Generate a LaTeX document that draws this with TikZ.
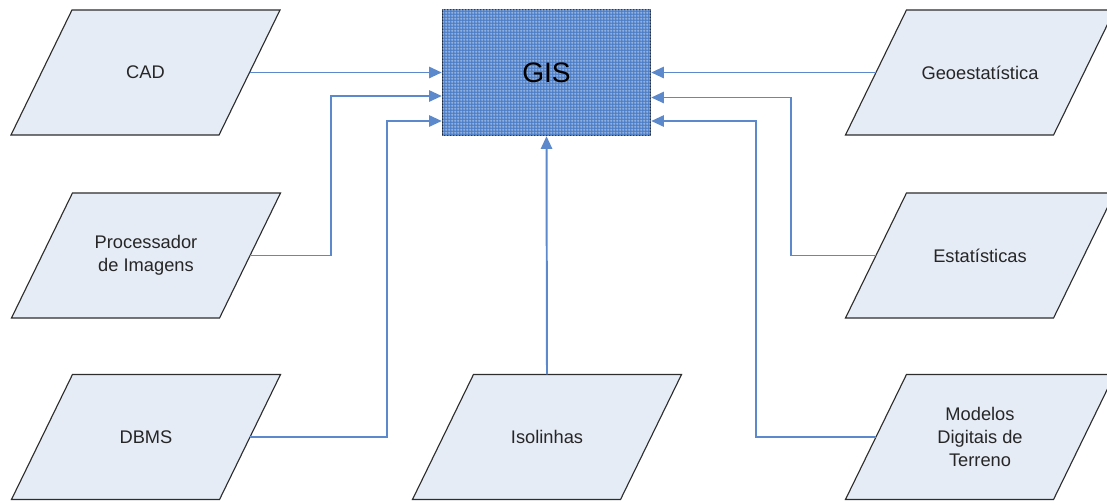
\documentclass[tikz,border=0pt]{standalone}
\usepackage{fontspec}
\setmainfont{Liberation Sans}
\usetikzlibrary{arrows.meta,calc,patterns.meta,backgrounds}
\definecolor{parfill}{RGB}{230,236,246}
\definecolor{gisblue}{RGB}{76,126,200}
\definecolor{linkblue}{RGB}{92,136,204}
\definecolor{edgegray}{RGB}{45,45,45}
\pgfdeclarepattern{name=gisgrid,type=uncolored,bottom left={\pgfpoint{0pt}{0pt}},top right={\pgfpoint{2.2pt}{2.2pt}},
	tile size={\pgfpoint{2.2pt}{2.2pt}},
	code={\pgfsetlinewidth{0.4pt}\pgfpathmoveto{\pgfpoint{0pt}{1.1pt}}\pgfpathlineto{\pgfpoint{2.2pt}{1.1pt}}
		\pgfpathmoveto{\pgfpoint{1.1pt}{0pt}}\pgfpathlineto{\pgfpoint{1.1pt}{2.2pt}}\pgfusepath{stroke}}}
\begin{document}
\begin{tikzpicture}[x=0.025cm,y=-0.025cm,
		source/.style={rectangle,outer sep=0pt,minimum width=5.2cm,minimum height=3.125cm,
			text=black!85,align=center,font=\fontsize{13}{16.5}\selectfont},
		para/.style={draw=edgegray,line width=0.8pt,fill=parfill},
		gisbox/.style={rectangle,draw=black!70!gisblue,line width=1pt,fill=gisblue,
			postaction={pattern={gisgrid},pattern color=white!60!gisblue},
			minimum width=5.2cm,minimum height=3.15cm,font=\fontsize{20}{24}\selectfont},
		link/.style={draw=linkblue,line width=1.4pt,-{Triangle[length=9pt,width=8pt]}}]
	\useasboundingbox (0,0) rectangle (1107,502) ;
	\node[gisbox] (gis) at (546.5,72.5) {GIS} ;
	% left column
	\node[source] (cad) at (145.5,72.5) {CAD} ;
	\node[source] (proc) at (146,255.5) {Processador\\de Imagens} ;
	\node[source] (dbms) at (146,437) {DBMS} ;
	% middle
	\node[source] (iso) at (547,437) {Isolinhas} ;
	% right column
	\node[source] (geo) at (980,72.5) {Geoestatística} ;
	\node[source] (est) at (980,255.5) {Estatísticas} ;
	\node[source] (mdt) at (980,437) {Modelos\\Digitais de\\Terreno} ;
	% parallelograms behind the texts
	\begin{scope}[on background layer]
		\foreach \n in {cad,proc,dbms,iso,geo,est,mdt}
			\draw[para] ($(\n.north west)+(30.5,0)$) -- ($(\n.north east)+(30.5,0)$) -- ($(\n.south east)+(-30.5,0)$) -- ($(\n.south west)+(-30.5,0)$) -- cycle ;
	\end{scope}
	% links
	\draw[link] (cad.east) -- (gis.west) ;
	\draw[link] (proc.east) -| ($(gis.west)+(-111,23.5)$) -- ($(gis.west)+(0,23.5)$) ;
	\draw[link] (dbms.east) -| ($(gis.west)+(-55,48.5)$) -- ($(gis.west)+(0,48.5)$) ;
	\draw[link] (iso.north) -- (gis.south) ;
	\draw[link] (geo.west) -- (gis.east) ;
	\draw[link] (est.west) -| ($(gis.east)+(140,25)$) -- ($(gis.east)+(0,25)$) ;
	\draw[link] (mdt.west) -| ($(gis.east)+(105,48.5)$) -- ($(gis.east)+(0,48.5)$) ;
\end{tikzpicture}
\end{document}
